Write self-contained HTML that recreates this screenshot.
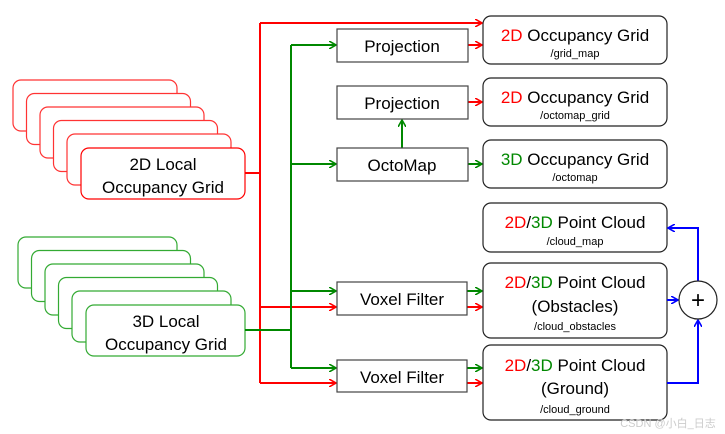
<!DOCTYPE html>
<html><head><style>body{margin:0;background:#fff}svg{display:block;font-family:"Liberation Sans",sans-serif}</style></head><body>
<svg width="725" height="434" viewBox="0 0 725 434" xmlns="http://www.w3.org/2000/svg">
<defs>
<marker id="ar" markerWidth="8" markerHeight="8" refX="7" refY="4" orient="auto" markerUnits="userSpaceOnUse"><path d="M0,0 L7,4 L0,8" fill="none" stroke="#f00" stroke-width="1.6"/></marker>
<marker id="ag" markerWidth="8" markerHeight="8" refX="7" refY="4" orient="auto" markerUnits="userSpaceOnUse"><path d="M0,0 L7,4 L0,8" fill="none" stroke="#080" stroke-width="1.6"/></marker>
<marker id="ab" markerWidth="8" markerHeight="8" refX="7" refY="4" orient="auto" markerUnits="userSpaceOnUse"><path d="M0,0 L7,4 L0,8" fill="none" stroke="#00f" stroke-width="1.6"/></marker>
</defs>
<!-- red stack -->
<g fill="#fff" stroke="#f33" stroke-width="1.2">
<rect x="13" y="80" width="164" height="51" rx="8"/>
<rect x="26.5" y="93.5" width="164" height="51" rx="8"/>
<rect x="40" y="107" width="164" height="51" rx="8"/>
<rect x="53.5" y="120.5" width="164" height="51" rx="8"/>
<rect x="67" y="134" width="164" height="51" rx="8"/>
<rect x="81" y="148" width="164" height="51" rx="8" stroke="#f00"/>
</g>
<text x="163" y="170" font-size="17" text-anchor="middle">2D Local</text>
<text x="163" y="193" font-size="17" text-anchor="middle">Occupancy Grid</text>
<!-- green stack -->
<g fill="#fff" stroke="#3a3" stroke-width="1.2">
<rect x="18" y="237" width="159" height="51" rx="8"/>
<rect x="31.5" y="250.5" width="159" height="51" rx="8"/>
<rect x="45" y="264" width="159" height="51" rx="8"/>
<rect x="58.5" y="277.5" width="159" height="51" rx="8"/>
<rect x="72" y="291" width="159" height="51" rx="8"/>
<rect x="86" y="305" width="159" height="51" rx="8"/>
</g>
<text x="166" y="327" font-size="17" text-anchor="middle">3D Local</text>
<text x="166" y="350" font-size="17" text-anchor="middle">Occupancy Grid</text>
<!-- red lines -->
<g fill="none" stroke="#f00" stroke-width="2">
<path d="M245,173 H260"/>
<path d="M260,23 V383"/>
<path d="M260,23 H482" marker-end="url(#ar)"/>
<path d="M260,307 H336" marker-end="url(#ar)"/>
<path d="M260,383 H336" marker-end="url(#ar)"/>
<path d="M468,45 H482" marker-end="url(#ar)"/>
<path d="M468,102 H482" marker-end="url(#ar)"/>
<path d="M467,307 H482" marker-end="url(#ar)"/>
<path d="M467,383 H482" marker-end="url(#ar)"/>
</g>
<!-- green lines -->
<g fill="none" stroke="#080" stroke-width="2">
<path d="M245,330 H291"/>
<path d="M291,45 V368"/>
<path d="M291,45 H336" marker-end="url(#ag)"/>
<path d="M291,164 H336" marker-end="url(#ag)"/>
<path d="M291,291 H336" marker-end="url(#ag)"/>
<path d="M291,368 H336" marker-end="url(#ag)"/>
<path d="M468,164 H482" marker-end="url(#ag)"/>
<path d="M402,148 V120" marker-end="url(#ag)"/>
<path d="M467,291 H482" marker-end="url(#ag)"/>
<path d="M467,368 H482" marker-end="url(#ag)"/>
</g>
<!-- process boxes -->
<g fill="#fff" stroke="#444" stroke-width="1.2">
<rect x="337" y="29" width="131" height="33"/>
<rect x="337" y="86" width="131" height="33"/>
<rect x="337" y="148" width="131" height="33"/>
<rect x="337" y="282" width="130" height="33"/>
<rect x="337" y="360" width="130" height="32"/>
</g>
<g font-size="17" text-anchor="middle">
<text x="402" y="52">Projection</text>
<text x="402" y="109">Projection</text>
<text x="402" y="171">OctoMap</text>
<text x="402" y="305">Voxel Filter</text>
<text x="402" y="383">Voxel Filter</text>
</g>
<!-- output boxes -->
<g fill="#fff" stroke="#222" stroke-width="1.2">
<rect x="483" y="16" width="184" height="48" rx="8"/>
<rect x="483" y="78" width="184" height="48" rx="8"/>
<rect x="483" y="140" width="184" height="48" rx="8"/>
<rect x="483" y="203" width="184" height="49" rx="8"/>
<rect x="483" y="263" width="184" height="75" rx="8"/>
<rect x="483" y="345" width="184" height="75" rx="8"/>
</g>
<g text-anchor="middle">
<text x="575" y="41" font-size="17"><tspan fill="#f00">2D</tspan> Occupancy Grid</text>
<text x="575" y="57" font-size="11">/grid_map</text>
<text x="575" y="103" font-size="17"><tspan fill="#f00">2D</tspan> Occupancy Grid</text>
<text x="575" y="119" font-size="11">/octomap_grid</text>
<text x="575" y="165" font-size="17"><tspan fill="#080">3D</tspan> Occupancy Grid</text>
<text x="575" y="181" font-size="11">/octomap</text>
<text x="575" y="228" font-size="17"><tspan fill="#f00">2D</tspan>/<tspan fill="#080">3D</tspan> Point Cloud</text>
<text x="575" y="245" font-size="11">/cloud_map</text>
<text x="575" y="288" font-size="17"><tspan fill="#f00">2D</tspan>/<tspan fill="#080">3D</tspan> Point Cloud</text>
<text x="575" y="312" font-size="17">(Obstacles)</text>
<text x="575" y="330" font-size="11">/cloud_obstacles</text>
<text x="575" y="371" font-size="17"><tspan fill="#f00">2D</tspan>/<tspan fill="#080">3D</tspan> Point Cloud</text>
<text x="575" y="394" font-size="17">(Ground)</text>
<text x="575" y="413" font-size="11">/cloud_ground</text>
</g>
<!-- blue -->
<g fill="none" stroke="#00f" stroke-width="2">
<path d="M667,300 H678" marker-end="url(#ab)"/>
<path d="M698,281 V228 H668" marker-end="url(#ab)"/>
<path d="M667,383 H698 V320" marker-end="url(#ab)"/>
</g>
<circle cx="698" cy="300" r="19" fill="#fff" stroke="#222" stroke-width="1.2"/>
<text x="698" y="308" font-size="24" text-anchor="middle">+</text>
<text x="668" y="427" font-size="11" fill="#ccc" text-anchor="middle">CSDN @小白_日志</text>
</svg>
</body></html>
